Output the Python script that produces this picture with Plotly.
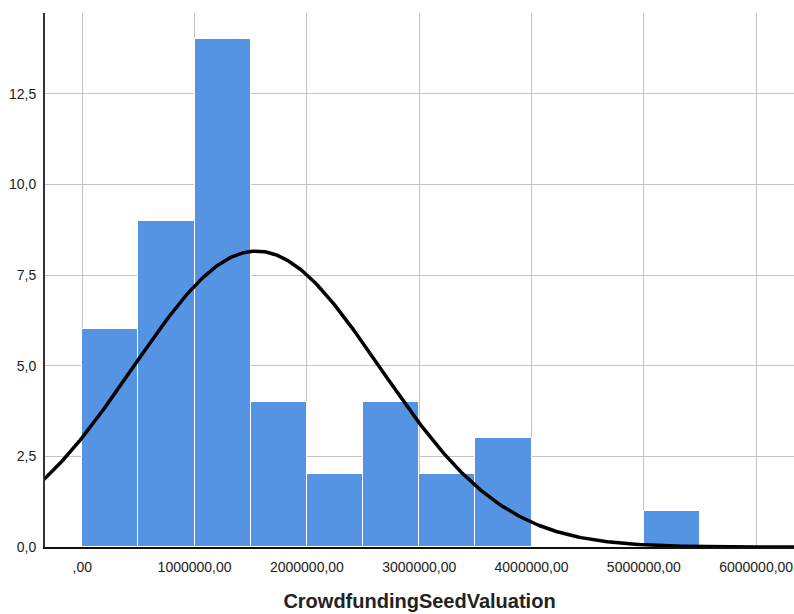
import numpy as np
import plotly.graph_objects as go

# Histogram data (bin width 500000)
bin_starts = [0, 500000, 1000000, 1500000, 2000000, 2500000, 3000000, 3500000, 4000000, 4500000, 5000000]
counts = [6, 9, 14, 4, 2, 4, 2, 3, 0, 0, 1]
bin_width = 500000

# Normal curve parameters (SPSS fitted curve)
n_total = 45
mean_val = 1550000
sd_val = 1100000

x_tickvals = [0, 1000000, 2000000, 3000000, 4000000, 5000000, 6000000]
x_ticktext = [",00", "1000000,00", "2000000,00", "3000000,00", "4000000,00", "5000000,00", "6000000,00"]
y_tickvals = [0, 2.5, 5, 7.5, 10, 12.5]
y_ticktext = ["0,0", "2,5", "5,0", "7,5", "10,0", "12,5"]

centers = [s + bin_width / 2 for s in bin_starts]

xs = np.linspace(-340000, 6400000, 400)
ys = n_total * bin_width / (sd_val * np.sqrt(2 * np.pi)) * np.exp(-0.5 * ((xs - mean_val) / sd_val) ** 2)

fig = go.Figure()
fig.add_trace(go.Bar(
    x=centers, y=counts, width=[bin_width] * len(centers),
    marker=dict(color="#5494E3", line=dict(color="white", width=1)),
    showlegend=False, hoverinfo="skip"))
fig.add_trace(go.Scatter(
    x=xs, y=ys, mode="lines", line=dict(color="black", width=3.5),
    showlegend=False, hoverinfo="skip"))

fig.update_layout(
    width=794, height=614,
    margin=dict(l=45, r=0, t=13, b=67),
    plot_bgcolor="white", paper_bgcolor="white",
    font=dict(family="Liberation Sans, Arial, sans-serif", size=14, color="#222222"),
    bargap=0,
    xaxis=dict(
        range=[-332000, 6337000],
        tickvals=x_tickvals, ticktext=x_ticktext,
        showgrid=True, gridcolor="#c4c4c4", gridwidth=1.3,
        showline=True, linecolor="#111111", linewidth=1.5,
        ticks="", zeroline=False, ticklabelstandoff=6,
        tickfont=dict(size=14, color="#222222"),
        title=dict(text="<b>CrowdfundingSeedValuation</b>", font=dict(size=20, color="#222222"), standoff=20),
    ),
    yaxis=dict(
        range=[0, 14.73],
        tickvals=y_tickvals, ticktext=y_ticktext,
        showgrid=True, gridcolor="#c4c4c4", gridwidth=1.3,
        showline=True, linecolor="#333333", linewidth=2,
        ticks="", zeroline=False, ticklabelstandoff=4,
        tickfont=dict(size=14, color="#222222"),
    ),
)

fig.write_html("out.html")
